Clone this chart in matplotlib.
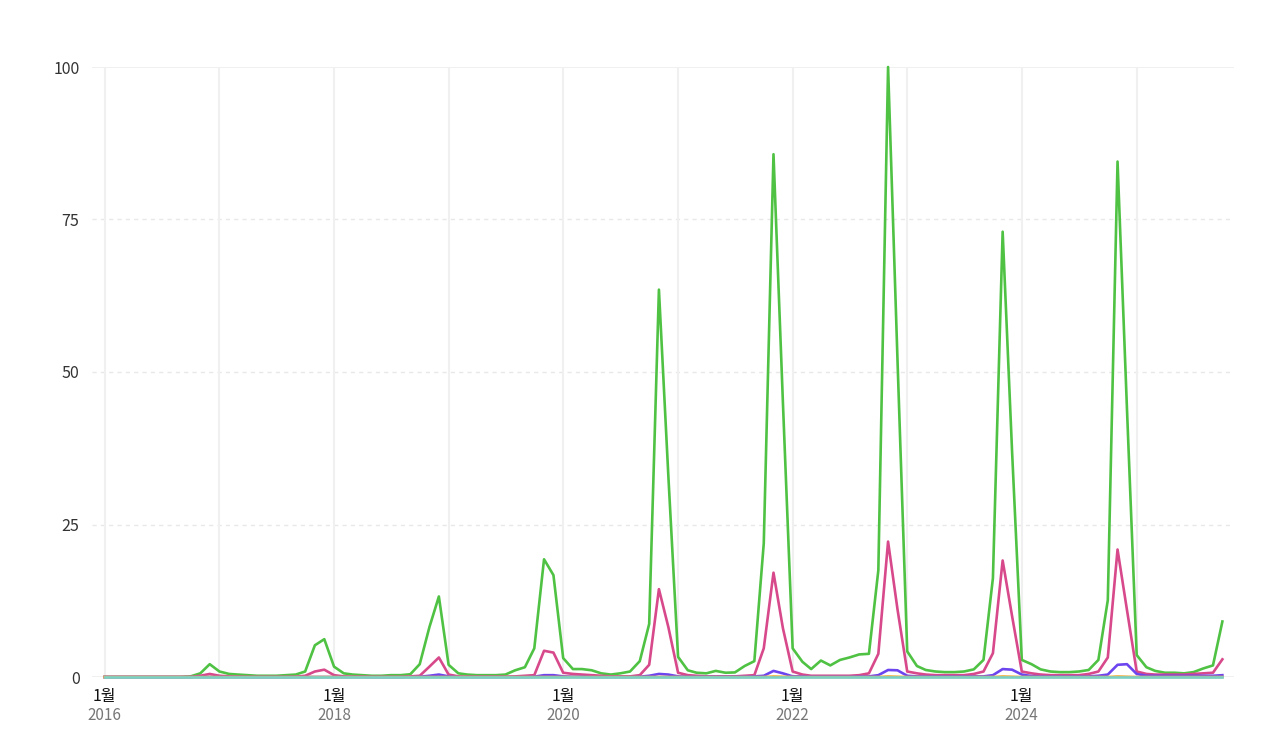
import matplotlib
matplotlib.use('Agg')
import matplotlib.pyplot as plt
import matplotlib.transforms as mtransforms
import pandas as pd

plt.rcParams['font.family'] = ['Noto Sans CJK KR', 'DejaVu Sans']

# monthly values, Jan 2016 .. Oct 2025
months = pd.date_range('2016-01-01', periods=118, freq='MS')

green = [
    0, 0, 0, 0, 0, 0, 0, 0, 0, 0.1, 0.6, 2.1,
    0.9, 0.5, 0.4, 0.3, 0.2, 0.2, 0.2, 0.3, 0.4, 0.9, 5.2, 6.2,
    1.7, 0.6, 0.4, 0.3, 0.2, 0.2, 0.3, 0.3, 0.45, 2.1, 8.2, 13.2,
    2.0, 0.6, 0.4, 0.3, 0.3, 0.3, 0.4, 1.1, 1.6, 4.7, 19.3, 16.7,
    3.1, 1.3, 1.3, 1.1, 0.6, 0.4, 0.6, 0.9, 2.6, 8.7, 63.5, 33,
    3.3, 1.1, 0.7, 0.6, 1.0, 0.7, 0.75, 1.8, 2.6, 21.9, 85.7, 45,
    4.7, 2.5, 1.3, 2.7, 1.9, 2.8, 3.2, 3.7, 3.8, 17.5, 100, 52,
    4.2, 1.8, 1.15, 0.9, 0.8, 0.8, 0.9, 1.25, 2.8, 16.2, 73, 37,
    2.8, 2.1, 1.25, 0.9, 0.8, 0.8, 0.9, 1.15, 2.8, 12.6, 84.5, 44,
    3.6, 1.6, 1.0, 0.7, 0.7, 0.6, 0.8, 1.4, 1.9, 9.1,
]
pink = [
    0, 0, 0, 0, 0, 0, 0, 0, 0, 0, 0.2, 0.5,
    0.2, 0.1, 0.05, 0, 0, 0, 0, 0, 0.05, 0.2, 0.9, 1.2,
    0.3, 0.1, 0.05, 0.05, 0, 0, 0, 0, 0.1, 0.2, 1.7, 3.2,
    0.4, 0.1, 0.05, 0.05, 0.05, 0.05, 0.05, 0.1, 0.2, 0.3, 4.3, 4.0,
    0.7, 0.5, 0.4, 0.3, 0.2, 0.1, 0.1, 0.1, 0.3, 2.0, 14.4, 8.2,
    0.7, 0.3, 0.2, 0.1, 0.1, 0.1, 0.1, 0.2, 0.3, 4.7, 17.1, 8.0,
    0.9, 0.4, 0.2, 0.2, 0.2, 0.2, 0.2, 0.3, 0.6, 3.8, 22.2, 11.1,
    0.9, 0.6, 0.4, 0.3, 0.3, 0.3, 0.3, 0.5, 0.9, 3.9, 19.1, 10,
    0.9, 0.6, 0.4, 0.3, 0.3, 0.3, 0.3, 0.5, 0.9, 3.2, 20.9, 11,
    0.9, 0.5, 0.4, 0.4, 0.4, 0.4, 0.5, 0.6, 0.7, 2.9,
]
purple = [
    0, 0, 0, 0, 0, 0, 0, 0, 0, 0, 0, 0,
    0, 0, 0, 0, 0, 0, 0, 0, 0, 0, 0, 0,
    0, 0, 0, 0, 0, 0, 0, 0, 0, 0.05, 0.2, 0.4,
    0.1, 0, 0, 0, 0, 0, 0, 0, 0, 0.05, 0.3, 0.3,
    0.1, 0.05, 0.05, 0, 0, 0, 0, 0, 0.05, 0.2, 0.5, 0.4,
    0.1, 0.05, 0.05, 0.05, 0.05, 0.05, 0.05, 0.05, 0.1, 0.2, 1.0, 0.6,
    0.1, 0.1, 0.05, 0.05, 0.05, 0.05, 0.05, 0.1, 0.1, 0.3, 1.15, 1.1,
    0.2, 0.1, 0.1, 0.1, 0.1, 0.1, 0.1, 0.1, 0.1, 0.3, 1.3, 1.2,
    0.4, 0.15, 0.1, 0.1, 0.1, 0.1, 0.1, 0.1, 0.2, 0.4, 2.0, 2.1,
    0.5, 0.2, 0.2, 0.2, 0.2, 0.2, 0.2, 0.2, 0.2, 0.3,
]
orange = [0] * 70 + [0.1, 0.05] + [0] * 10 + [0.1, 0.05] + [0] * 10 + [0.1, 0.05] + [0] * 10 + [0.1, 0.05] + [0] * 10
teal = [0.05] * 118

series = [
    (green, '#4fc244'),
    (pink, '#d7498a'),
    (purple, '#6c45ef'),
    (orange, '#f2b34a'),
    (teal, '#7ad0c4'),
]

label_years = [2016, 2018, 2020, 2022, 2024]
grid_years = list(range(2016, 2026))
yticks = [0, 25, 50, 75, 100]

fig = plt.figure(figsize=(12.8, 7.53), dpi=100)
ax = fig.add_axes([92 / 1280, 1 - 677 / 753, (1234 - 92) / 1280, (677 - 67) / 753])

for vals, col in series:
    ax.plot(months, vals, color=col, lw=1.9, clip_on=False, zorder=3)

ax.set_ylim(0, 100)
ax.set_xlim(pd.Timestamp('2015-11-22'), pd.Timestamp('2025-11-07'))

# horizontal grid: solid at 0 / 100, dashed in between
for v in yticks:
    if v in (0, 100):
        ax.axhline(v, color='#eeeeee', lw=1.2, zorder=1)
    else:
        ax.axhline(v, color='#e8e8e8', lw=1, ls=(0, (3, 3)), zorder=1)
for y in grid_years:
    ax.axvline(pd.Timestamp(f'{y}-01-01'), color='#f0f0f0', lw=1.5, zorder=1)

ax.set_yticks(yticks)
ax.set_yticklabels([str(v) for v in yticks], fontsize=11.5, color='#333333')
ax.set_xticks([pd.Timestamp(f'{y}-01-01') for y in label_years])
ax.set_xticklabels(['1월'] * len(label_years), fontsize=11.5, color='#111111')
ax.tick_params(axis='both', length=0)
ax.tick_params(axis='y', pad=9)
ax.tick_params(axis='x', pad=8)

trans = mtransforms.blended_transform_factory(ax.transData, fig.transFigure)
for y in label_years:
    ax.text(pd.Timestamp(f'{y}-01-01'), 1 - 716 / 753, str(y), transform=trans,
            ha='center', va='center', fontsize=11, color='#777777')

for s in ax.spines.values():
    s.set_visible(False)

fig.savefig('out.png', dpi=100)
